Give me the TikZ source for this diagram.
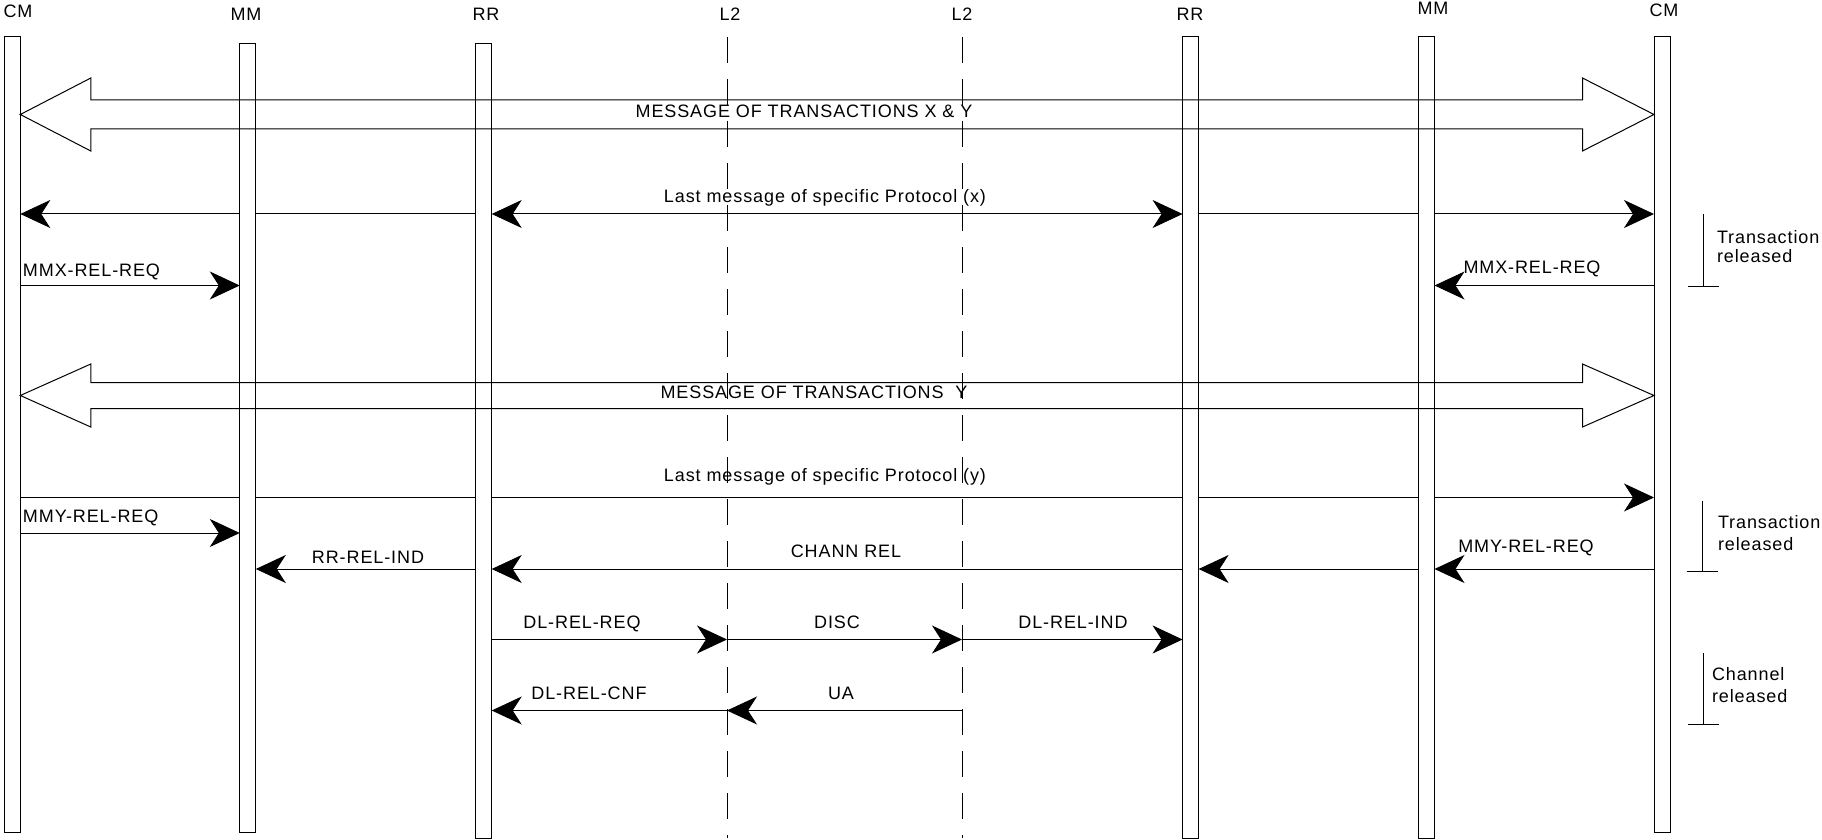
\documentclass[tikz,border=0pt]{standalone}
\usepackage{fontspec}
\setmainfont{Liberation Sans}[LetterSpace=5]
\usetikzlibrary{arrows.meta,calc}
\begin{document}
\begin{tikzpicture}[x=0.5pt,y=-0.5pt,
  seg/.style={line width=0.5pt},
  bar/.style={draw, line width=0.5pt, fill=white, minimum width=8pt, inner sep=0pt, outer sep=0pt},
  lbl/.style={font=\fontsize{9}{10}\selectfont, inner sep=0pt, outer sep=0pt, anchor=base},
  lbll/.style={lbl, anchor=base west},
  msg/.style={line width=0.5pt, -{Stealth[length=15pt,width=14pt,inset=4.5pt]}},
  dmsg/.style={line width=0.5pt, {Stealth[length=15pt,width=14pt,inset=4.5pt]}-{Stealth[length=15pt,width=14pt,inset=4.5pt]}},
  hollow/.style={line width=0.5pt, line join=miter},
  lifeline/.style={line width=0.45pt, dash pattern=on 13pt off 8pt},
]
\fill[white] (0,0) rectangle (1822,840);
\useasboundingbox (0,0) rectangle (1822,840);
% lifelines
\node[bar, minimum height=397.5pt] (cm1) at (12.3,434.5) {};
\node[bar, minimum height=394pt] (mm1) at (247.8,438) {};
\node[bar, minimum height=397pt] (rr1) at (483.7,441) {};
\node[bar, minimum height=400.5pt] (rr2) at (1190.6,437.5) {};
\node[bar, minimum height=400.5pt] (mm2) at (1426.5,437.5) {};
\node[bar, minimum height=397.5pt] (cm2) at (1662,434.5) {};
\coordinate (l2at) at (727,37); \coordinate (l2ab) at (727,838);
\coordinate (l2bt) at (962,37); \coordinate (l2bb) at (962,838);
\draw[lifeline] (l2at) -- (l2ab);
\draw[lifeline] (l2bt) -- (l2bb);
% titles
\node[lbl] (tcm1) at (18,18) {CM};
\node[lbl] (tmm1) at (246,21) {MM};
\node[lbl] (trr1) at (486,21) {RR};
\node[lbl] (tl2a) at (730,21) {L2};
\node[lbl] (tl2b) at (962,21) {L2};
\node[lbl] (trr2) at (1190,21) {RR};
\node[lbl] (tmm2) at (1433,15) {MM};
\node[lbl] (tcm2) at (1664,17) {CM};
% rows
\coordinate (yA) at (0,114.5);
\coordinate (yB) at (0,214);
\coordinate (yC) at (0,285.5);
\coordinate (yD) at (0,395.5);
\coordinate (yE) at (0,497.5);
\coordinate (yF) at (0,533);
\coordinate (yG) at (0,569);
\coordinate (yH) at (0,639.5);
\coordinate (yI) at (0,710.5);
% row A
\draw[hollow] (cm1.east|-yA) -- ++(70.5,-36.5) -- ++(0,22) -- ($(cm2.west|-yA)+(-71.5,-14.5)$) -- ++(0,-22) -- (cm2.west|-yA) -- ++(-71.5,36.5) -- ++(0,-22) -- ($(cm1.east|-yA)+(70.5,14.5)$) -- ++(0,22) -- cycle;
\node[lbl] (la) at (804,118) {MESSAGE OF TRANSACTIONS X \& Y};
% row B
\draw[msg] (mm1.west|-yB) -- (cm1.east|-yB);
\draw[seg] (mm1.east|-yB) -- (rr1.west|-yB);
\draw[dmsg] (rr1.east|-yB) -- (rr2.west|-yB);
\draw[seg] (rr2.east|-yB) -- (mm2.west|-yB);
\draw[msg] (mm2.east|-yB) -- (cm2.west|-yB);
\node[lbl] (lb) at (825,203) {Last message of specific Protocol (x)};
% row C
\draw[msg] (cm1.east|-yC) -- (mm1.west|-yC);
\node[lbll] (lc1) at (23,276) {MMX-REL-REQ};
\draw[msg] (cm2.west|-yC) -- (mm2.east|-yC);
\node[lbl] (lc2) at (1532,273) {MMX-REL-REQ};
% bracket 1
\coordinate (b1t) at (1703,214); \coordinate (b1b) at (1703,286);
\draw[seg] (b1t) -- (b1b) (b1b) ++(-15.5,0) -- ++(31,0);
\node[lbll] (t1a) at (1717,243) {Transaction};
\node[lbll] (t1b) at (1717,263) {released};
% row D
\draw[hollow] (cm1.east|-yD) -- ++(70.5,-31.5) -- ++(0,18.5) -- ($(cm2.west|-yD)+(-71.5,-13)$) -- ++(0,-18.5) -- (cm2.west|-yD) -- ++(-71.5,31.5) -- ++(0,-18.5) -- ($(cm1.east|-yD)+(70.5,13)$) -- ++(0,18.5) -- cycle;
\node[lbl] (ld) at (814,398) {MESSAGE OF TRANSACTIONS\ \ Y};
% row E
\draw[seg] (cm1.east|-yE) -- (mm1.west|-yE);
\draw[seg] (mm1.east|-yE) -- (rr1.west|-yE);
\draw[seg] (rr1.east|-yE) -- (rr2.west|-yE);
\draw[seg] (rr2.east|-yE) -- (mm2.west|-yE);
\draw[msg] (mm2.east|-yE) -- (cm2.west|-yE);
\node[lbl] (le) at (825,481) {Last message of specific Protocol (y)};
% row F
\draw[msg] (cm1.east|-yF) -- (mm1.west|-yF);
\node[lbll] (lf) at (23,522) {MMY-REL-REQ};
% row G
\draw[msg] (rr1.west|-yG) -- (mm1.east|-yG);
\node[lbl] (lg1) at (368,563) {RR-REL-IND};
\draw[msg] (rr2.west|-yG) -- (rr1.east|-yG);
\node[lbl] (lg2) at (846,557) {CHANN REL};
\draw[msg] (mm2.west|-yG) -- (rr2.east|-yG);
\draw[msg] (cm2.west|-yG) -- (mm2.east|-yG);
\node[lbl] (lg3) at (1526,552) {MMY-REL-REQ};
% bracket 2
\coordinate (b2t) at (1702,501); \coordinate (b2b) at (1702,571);
\draw[seg] (b2t) -- (b2b) (b2b) ++(-15.5,0) -- ++(31,0);
\node[lbll] (t2a) at (1718,528) {Transaction};
\node[lbll] (t2b) at (1718,550) {released};
% row H
\draw[msg] (rr1.east|-yH) -- (l2at|-yH);
\node[lbl] (lh1) at (582,628) {DL-REL-REQ};
\draw[msg] (l2at|-yH) -- (l2bt|-yH);
\node[lbl] (lh2) at (837,628) {DISC};
\draw[msg] (l2bt|-yH) -- (rr2.west|-yH);
\node[lbl] (lh3) at (1073,628) {DL-REL-IND};
% row I
\draw[msg] (l2bt|-yI) -- (l2at|-yI);
\node[lbl] (li1) at (841,699) {UA};
\draw[msg] (l2at|-yI) -- (rr1.east|-yI);
\node[lbl] (li2) at (589,699) {DL-REL-CNF};
% bracket 3
\coordinate (b3t) at (1703,653); \coordinate (b3b) at (1703,724);
\draw[seg] (b3t) -- (b3b) (b3b) ++(-15.5,0) -- ++(31,0);
\node[lbll] (t3a) at (1712,680) {Channel};
\node[lbll] (t3b) at (1712,702) {released};
\end{tikzpicture}
\end{document}
